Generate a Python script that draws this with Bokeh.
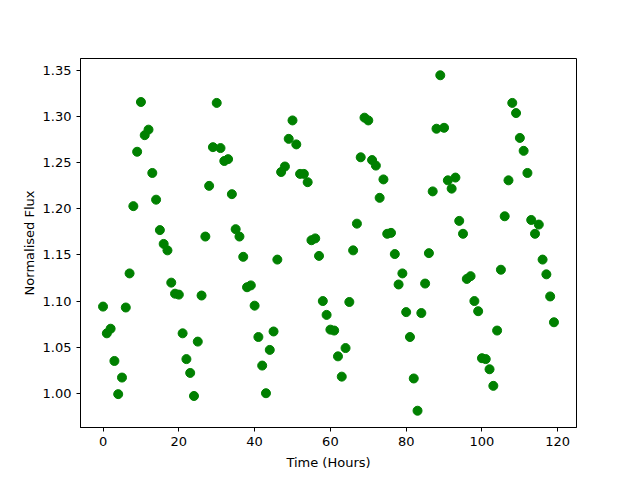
from bokeh.plotting import figure
from bokeh.models import Range1d, FixedTicker, PrintfTickFormatter
from bokeh.embed import file_html
from bokeh.resources import INLINE

time_hours = list(range(120))
flux = [
    1.094, 1.065, 1.070, 1.035, 0.999, 1.017, 1.093, 1.130, 1.203, 1.262,
    1.316, 1.280, 1.286, 1.239, 1.210, 1.177, 1.162, 1.155, 1.120, 1.108,
    1.107, 1.065, 1.037, 1.022, 0.997, 1.056, 1.106, 1.170, 1.225, 1.267,
    1.315, 1.266, 1.252, 1.254, 1.216, 1.178, 1.170, 1.148, 1.115, 1.117,
    1.095, 1.061, 1.030, 1.000, 1.047, 1.067, 1.145, 1.240, 1.246, 1.276,
    1.296, 1.270, 1.238, 1.238, 1.229, 1.166, 1.168, 1.149, 1.100, 1.085,
    1.069, 1.068, 1.040, 1.018, 1.049, 1.099, 1.155, 1.184, 1.256, 1.299,
    1.296, 1.253, 1.247, 1.212, 1.232, 1.173, 1.174, 1.151, 1.118, 1.130,
    1.088, 1.061, 1.016, 0.981, 1.087, 1.119, 1.152, 1.219, 1.287, 1.345,
    1.288, 1.231, 1.222, 1.234, 1.187, 1.173, 1.124, 1.127, 1.100, 1.089,
    1.038, 1.037, 1.026, 1.008, 1.068, 1.134, 1.192, 1.231, 1.315, 1.304,
    1.277, 1.263, 1.239, 1.188, 1.173, 1.183, 1.145, 1.129, 1.105, 1.077,
]
x_ticks = [0, 20, 40, 60, 80, 100, 120]
y_ticks = [1.00, 1.05, 1.10, 1.15, 1.20, 1.25, 1.30, 1.35]

p = figure(width=632, height=472, output_backend="svg", toolbar_location=None,
           x_range=Range1d(-5.95, 124.95), y_range=Range1d(0.9628, 1.3632),
           min_border_left=80, min_border_right=56, min_border_top=58, min_border_bottom=45)

p.scatter(time_hours, flux, size=9, color="#008000", line_color="#008000")

p.xgrid.visible = False
p.ygrid.visible = False
p.outline_line_color = "black"
p.outline_line_width = 1
p.outline_line_alpha = 1

for ax in (p.xaxis[0], p.yaxis[0]):
    ax.major_tick_in = 0
    ax.major_tick_out = 4
    ax.minor_tick_line_color = None
    ax.axis_line_color = "black"
    ax.major_tick_line_color = "black"
    ax.major_label_text_font = "DejaVu Sans"
    ax.major_label_text_font_size = "13px"
    ax.major_label_text_color = "black"
    ax.axis_label_text_font = "DejaVu Sans"
    ax.axis_label_text_font_size = "13px"
    ax.axis_label_text_font_style = "normal"
    ax.axis_label_text_color = "black"

p.xaxis.ticker = FixedTicker(ticks=x_ticks)
p.yaxis.ticker = FixedTicker(ticks=y_ticks)
p.yaxis.formatter = PrintfTickFormatter(format="%.2f")
p.xaxis.axis_label = "Time (Hours)"
p.yaxis.axis_label = "Normalised Flux"
p.xaxis.axis_label_standoff = 6
p.yaxis.axis_label_standoff = 3

open("out.html", "w").write(file_html(p, INLINE))
